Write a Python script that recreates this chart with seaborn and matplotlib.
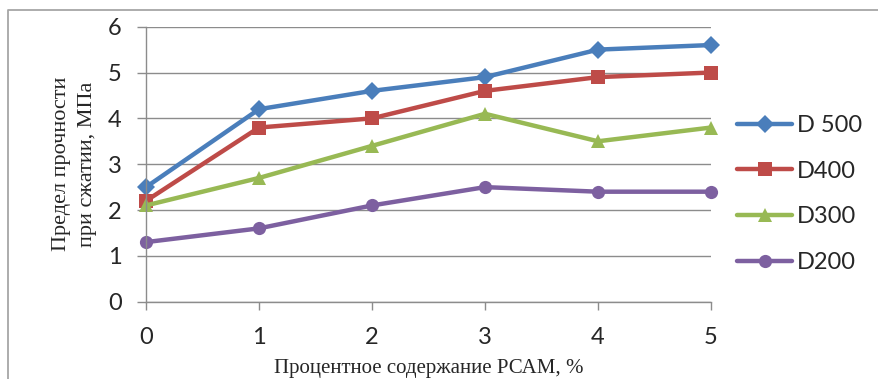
import matplotlib
matplotlib.use("Agg")
import matplotlib.pyplot as plt
from matplotlib.lines import Line2D
import seaborn as sns
import pandas as pd

# data
pct = [0, 1, 2, 3, 4, 5]
d500 = [2.5, 4.2, 4.6, 4.9, 5.5, 5.6]
d400 = [2.2, 3.8, 4.0, 4.6, 4.9, 5.0]
d300 = [2.1, 2.7, 3.4, 4.1, 3.5, 3.8]
d200 = [1.3, 1.6, 2.1, 2.5, 2.4, 2.4]
names = ["D 500", "D400", "D300", "D200"]
colors = ["#4A7EBB", "#BE4B48", "#98B954", "#7D60A0"]
markers = ["D", "s", "^", "o"]

rows = []
for name, vals in zip(names, [d500, d400, d300, d200]):
    for x, v in zip(pct, vals):
        rows.append({"pct": x, "val": v, "series": name})
df = pd.DataFrame(rows)

sns.set_style("white")
grid_col = "#8c8c8c"

fig = plt.figure(figsize=(8.79, 3.79), dpi=100)
ax = fig.add_axes([146/879, 1-301.7/379, (711-146)/879, (301.7-26.7)/379])

sns.lineplot(data=df, x="pct", y="val", hue="series", style="series",
             hue_order=names, style_order=names, palette=colors,
             markers=markers, dashes=False, linewidth=3.2, markersize=9.5,
             markeredgewidth=0, ax=ax, clip_on=False)

ax.set_xlim(0, 5)
ax.set_ylim(0, 6)
ax.set_xticks(pct)
ax.set_yticks(range(0, 7))
ax.yaxis.grid(True, color=grid_col, linewidth=1.0)
ax.xaxis.grid(False)
ax.set_axisbelow(True)
for s in ["top", "right"]:
    ax.spines[s].set_visible(False)
for s in ["left", "bottom"]:
    ax.spines[s].set_color(grid_col)
    ax.spines[s].set_linewidth(1.0)
ax.tick_params(axis="y", direction="out", length=6.5, width=1.0, color=grid_col,
               pad=11, labelsize=17, left=True)
ax.tick_params(axis="x", direction="out", length=6, width=1.0, color=grid_col,
               pad=12, labelsize=17, bottom=True)
for lab in ax.get_xticklabels() + ax.get_yticklabels():
    lab.set_family("Lato")

ax.set_xlabel("Процентное содержание РСАМ, %", family="Liberation Serif",
              fontsize=15, labelpad=8)
ax.set_ylabel("Предел прочности\nпри сжатии, МПа", family="Liberation Serif",
              fontsize=16, labelpad=8, linespacing=1.45)

handles, labels = ax.get_legend_handles_labels()
leg = ax.legend(handles, labels, loc="center left", frameon=False,
                bbox_to_anchor=(737/879, 1-194/379), bbox_transform=fig.transFigure,
                borderpad=0, borderaxespad=0, handlelength=2.35, handletextpad=0.2,
                labelspacing=1.05, prop={"family": "Lato", "size": 17})

# outer chart frame (cropped on the right and bottom)
fx = 8/879
fy = 1-10/379
fig.add_artist(Line2D([fx, fx, 1], [0, fy, fy], transform=fig.transFigure,
                      color="#a6a6a6", linewidth=1.3))

fig.savefig("out.png", dpi=100)
